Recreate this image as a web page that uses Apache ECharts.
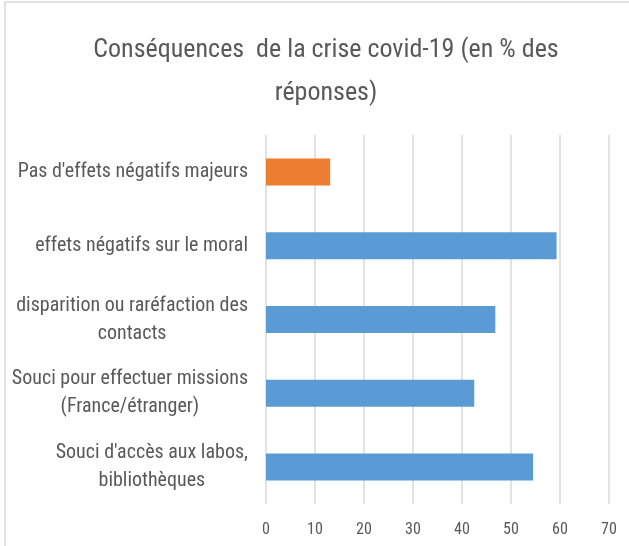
<!DOCTYPE html>
<html>
<head>
<meta charset="utf-8">
<script src="https://cdn.jsdelivr.net/npm/echarts@6/dist/echarts.min.js"></script>
<style>
  html, body { margin: 0; padding: 0; background: #fff; }
  #chart { width: 629px; height: 546px; }
</style>
</head>
<body>
<div id="chart"></div>
<script>
// top to bottom, as in the picture
var categories = [
  "Pas d'effets négatifs majeurs",
  'effets négatifs sur le moral',
  'disparition ou raréfaction des\ncontacts',
  'Souci pour effectuer missions\n(France/étranger)',
  "Souci d'accès aux labos,\nbibliothèques"
]
var values = [13.1, 59.3, 46.8, 42.5, 54.5]
var xTicks = [0, 10, 20, 30, 40, 50, 60, 70]

var font = "'Liberation Sans Narrow', 'Roboto Condensed', 'Open Sans', sans-serif"
var grey = '#595959'

var myChart = echarts.init(document.getElementById('chart'))
myChart.setOption({
  animation: false,
  graphic: [{
    type: 'rect',
    shape: { x: 5, y: 2, width: 700, height: 600 },
    style: { fill: 'none', stroke: '#d9d9d9', lineWidth: 1.5 },
    silent: true
  }],
  title: {
    text: 'Conséquences  de la crise covid-19 (en % des\nréponses)',
    left: 321,
    top: 24,
    textAlign: 'center',
    textStyle: {
      fontFamily: font,
      fontWeight: 'normal',
      fontSize: 26,
      lineHeight: 43,
      color: grey
    }
  },
  grid: { left: 266, right: 20, top: 135, bottom: 42, containLabel: false },
  xAxis: {
    type: 'value',
    min: xTicks[0],
    max: xTicks[xTicks.length - 1],
    interval: 10,
    axisLine: { show: false },
    axisTick: { show: false },
    splitLine: { lineStyle: { color: '#d9d9d9', width: 1.5 } },
    axisLabel: { color: grey, fontFamily: font, fontSize: 16, margin: 18 }
  },
  yAxis: {
    type: 'category',
    inverse: true,
    data: categories,
    axisLine: { show: false },
    axisTick: { show: false },
    axisLabel: {
      margin: 18,
      align: 'right',
      formatter: function (v) {
        return v.split('\n').map(function (l) { return '{c|' + l + '}' }).join('\n')
      },
      rich: {
        c: { align: 'center', color: grey, fontFamily: font, fontSize: 20, lineHeight: 28 }
      }
    }
  },
  series: [{
    type: 'bar',
    data: values,
    barWidth: 27,
    itemStyle: {
      color: function (p) { return p.dataIndex === 0 ? '#ed7d31' : '#5b9bd5' }
    }
  }]
})
</script>
</body>
</html>
